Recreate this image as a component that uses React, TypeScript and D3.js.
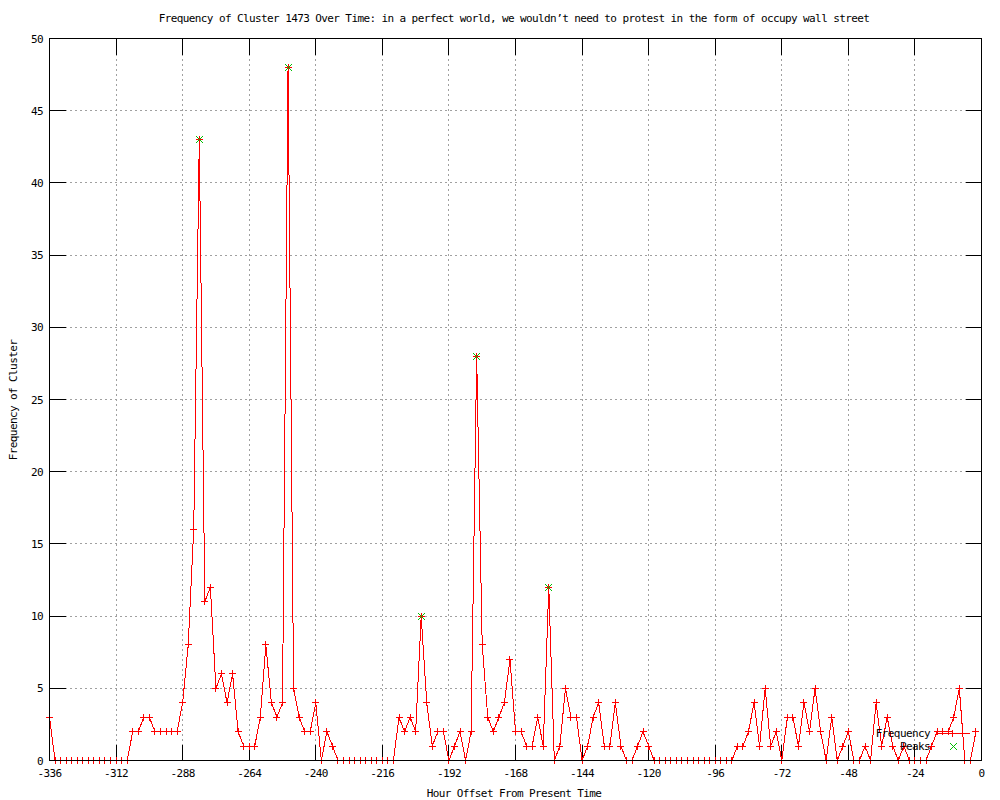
import React from "react";
import * as d3 from "d3";

// Frequency per 2-hour bin, starting at hour -336
const startHour = -336;
const stepHours = 2;
const frequency = [
  3, 0, 0, 0, 0, 0, 0, 0, 0, 0, 0, 0, 0, 0, 0, 2, 2, 3, 3, 2,
  2, 2, 2, 2, 4, 8, 16, 43, 11, 12, 5, 6, 4, 6, 2, 1, 1, 1, 3, 8,
  4, 3, 4, 48, 5, 3, 2, 2, 4, 0, 2, 1, 0, 0, 0, 0, 0, 0, 0, 0,
  0, 0, 0, 3, 2, 3, 2, 10, 4, 1, 2, 2, 0, 1, 2, 0, 2, 28, 8, 3,
  2, 3, 4, 7, 2, 2, 1, 1, 3, 1, 12, 0, 1, 5, 3, 3, 0, 1, 3, 4,
  1, 1, 4, 1, 0, 0, 1, 2, 1, 0, 0, 0, 0, 0, 0, 0, 0, 0, 0, 0,
  0, 0, 0, 0, 1, 1, 2, 4, 1, 5, 1, 2, 0, 3, 3, 1, 4, 2, 5, 2,
  0, 3, 0, 1, 2, 0, 0, 1, 0, 4, 1, 3, 1, 0, 1, 0, 0, 0, 0, 1,
  2, 2, 2, 3, 5, 0, 0, 2,
];

const peakHours = [-282, -250, -202, -182, -156];
const peakValues = [43, 48, 10, 28, 12];

const xTicks = [-336, -312, -288, -264, -240, -216, -192, -168, -144, -120, -96, -72, -48, -24, 0];
const yTicks = [0, 5, 10, 15, 20, 25, 30, 35, 40, 45, 50];

const title =
  "Frequency of Cluster 1473 Over Time: in a perfect world, we wouldn\u2019t need to protest in the form of occupy wall street";
const xLabel = "Hour Offset From Present Time";
const yLabel = "Frequency of Cluster";

const W = 1000;
const H = 800;
const left = 49.5;
const right = 981.5;
const top = 38.5;
const bottom = 760.5;

const FONT = "'DejaVu Sans Mono', monospace";
const RED = "#ff0000";
const GREEN = "#00c000";
const GRID = "#a0a0a0";

export default function App() {
  const x = d3.scaleLinear().domain([-336, 0]).range([left, right]);
  const y = d3.scaleLinear().domain([0, 50]).range([bottom, top]);

  const pts = frequency.map((v, i) => ({ h: startHour + stepHours * i, v }));
  const line = d3
    .line<{ h: number; v: number }>()
    .x((d) => x(d.h))
    .y((d) => y(d.v));

  const snap = (n: number) => Math.floor(n) + 0.5;
  const plus = (cx: number, cy: number, r = 3.5) =>
    `M${cx - r},${cy}H${cx + r}M${cx},${cy - r}V${cy + r}`;
  const cross = (cx: number, cy: number, r = 3.5) =>
    `M${cx - r},${cy - r}L${cx + r},${cy + r}M${cx - r},${cy + r}L${cx + r},${cy - r}`;

  const tickLen = 16;
  const textStyle = { fontFamily: FONT, fontSize: 11, letterSpacing: -0.6 } as const;

  return (
    <svg
      width={W}
      height={H}
      style={{ position: "absolute", left: 0, top: 0, background: "#fff" }}
    >
      <rect x={0} y={0} width={W} height={H} fill="#fff" />
      {/* grid */}
      <g stroke={GRID} strokeWidth={1} strokeDasharray="2,3" shapeRendering="crispEdges">
        {xTicks
          .filter((t) => t !== -336 && t !== 0)
          .map((t) => (
            <line key={"gx" + t} x1={snap(x(t))} x2={snap(x(t))} y1={top} y2={bottom} />
          ))}
        {yTicks
          .filter((t) => t !== 0 && t !== 50)
          .map((t) => (
            <line key={"gy" + t} x1={left} x2={right} y1={snap(y(t))} y2={snap(y(t))} />
          ))}
      </g>
      {/* ticks */}
      <g stroke="#000" strokeWidth={1} shapeRendering="crispEdges">
        {xTicks.map((t) => (
          <g key={"tx" + t}>
            <line x1={snap(x(t))} x2={snap(x(t))} y1={bottom} y2={bottom - tickLen} />
            <line x1={snap(x(t))} x2={snap(x(t))} y1={top} y2={top + tickLen} />
          </g>
        ))}
        {yTicks.map((t) => (
          <g key={"ty" + t}>
            <line x1={left} x2={left + tickLen} y1={snap(y(t))} y2={snap(y(t))} />
            <line x1={right} x2={right - tickLen} y1={snap(y(t))} y2={snap(y(t))} />
          </g>
        ))}
      </g>
      {/* tick labels */}
      <g style={textStyle} fill="#000">
        {xTicks.map((t) => (
          <text key={"lx" + t} x={x(t)} y={777} textAnchor="middle">
            {t}
          </text>
        ))}
        {yTicks.map((t) => (
          <text key={"ly" + t} x={43} y={y(t) + 4} textAnchor="end">
            {t}
          </text>
        ))}
      </g>
      {/* data line */}
      <path
        d={line(pts) || ""}
        fill="none"
        stroke={RED}
        strokeWidth={1}
        shapeRendering="crispEdges"
      />
      <g stroke={RED} strokeWidth={1} shapeRendering="crispEdges" fill="none">
        {pts.map((p, i) => (
          <path key={"p" + i} d={plus(snap(x(p.h)), snap(y(p.v)))} />
        ))}
      </g>
      {/* peaks */}
      <g stroke={GREEN} strokeWidth={1} fill="none" shapeRendering="crispEdges">
        {peakHours.map((h, i) => (
          <path key={"k" + i} d={cross(snap(x(h)), snap(y(peakValues[i])))} />
        ))}
      </g>
      {/* border */}
      <rect
        x={left}
        y={top}
        width={right - left}
        height={bottom - top}
        fill="none"
        stroke="#000"
        strokeWidth={1}
        shapeRendering="crispEdges"
      />
      {/* legend */}
      <g style={textStyle} fill="#000">
        <text x={930} y={737} textAnchor="end">Frequency</text>
        <text x={930} y={750} textAnchor="end">Peaks</text>
      </g>
      <line x1={935.5} x2={969.5} y1={733.5} y2={733.5} stroke={RED} strokeWidth={1} shapeRendering="crispEdges" />
      <path d={plus(952.5, 733.5)} stroke={RED} strokeWidth={1} shapeRendering="crispEdges" />
      <path d={cross(953.5, 746.5)} stroke={GREEN} strokeWidth={1} fill="none" shapeRendering="crispEdges" />
      {/* titles */}
      <text x={514} y={22} textAnchor="middle" style={textStyle} fill="#000">
        {title}
      </text>
      <text x={514} y={797} textAnchor="middle" style={textStyle} fill="#000">
        {xLabel}
      </text>
      <text
        transform={`translate(17,400) rotate(-90)`}
        textAnchor="middle"
        style={textStyle}
        fill="#000"
      >
        {yLabel}
      </text>
    </svg>
  );
}
